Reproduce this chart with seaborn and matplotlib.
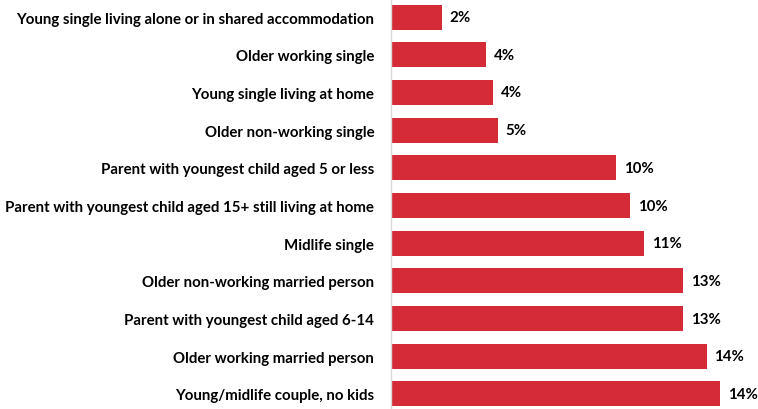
import matplotlib
matplotlib.use("Agg")
import matplotlib.pyplot as plt
import seaborn as sns
import pandas as pd

categories = [
    "Young single living alone or in shared accommodation",
    "Older working single",
    "Young single living at home",
    "Older non-working single",
    "Parent with youngest child aged 5 or less",
    "Parent with youngest child aged 15+ still living at home",
    "Midlife single",
    "Older non-working married person",
    "Parent with youngest child aged 6-14",
    "Older working married person",
    "Young/midlife couple, no kids",
]
shares = [2.2, 4.1, 4.4, 4.6, 9.7, 10.3, 10.9, 12.6, 12.6, 13.6, 14.2]

df = pd.DataFrame({"segment": categories, "share": shares})

sns.set_theme(style="white")
plt.rcParams["font.family"] = ["Lato", "DejaVu Sans"]

W, H = 758, 410
fig = plt.figure(figsize=(W / 100, H / 100), dpi=100)
ax = fig.add_axes([391 / W, 0.0, 360 / W, 1.0])

sns.barplot(data=df, x="share", y="segment", orient="h", color="#D52B36",
            saturation=1, width=0.665, ax=ax, edgecolor="none")

ax.set_xlim(0, 360 / 23.2)
ax.set_ylim(10.4, -0.48)
ax.set_xlabel("")
ax.set_ylabel("")
ax.set_xticks([])
ax.tick_params(axis="y", length=0, pad=12)
for lab in ax.get_yticklabels():
    lab.set_fontweight("bold")
    lab.set_fontsize(10.8)
    lab.set_color("black")

for s in ["top", "right", "bottom"]:
    ax.spines[s].set_visible(False)
ax.spines["left"].set_color("#D9D9D9")
ax.spines["left"].set_linewidth(1.0)

for i, v in enumerate(shares):
    ax.text(v + 0.33, i, f"{round(v)}%", va="center", ha="left",
            fontsize=10.8, fontweight="bold", color="black", clip_on=False)

fig.savefig("out.png", dpi=100)
